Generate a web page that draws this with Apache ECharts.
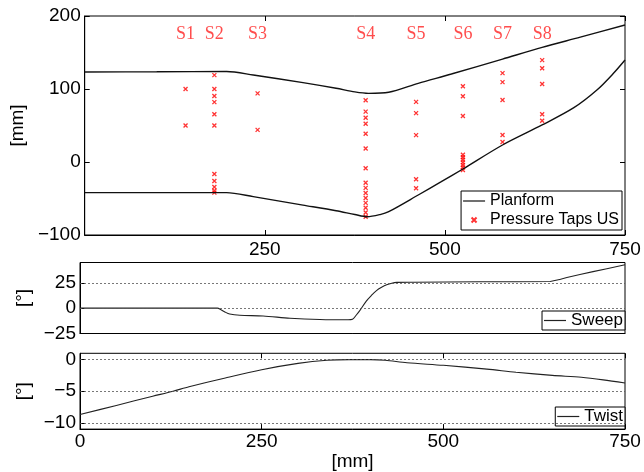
<!DOCTYPE html>
<html>
<head>
<meta charset="utf-8">
<script src="https://cdn.jsdelivr.net/npm/echarts@6/dist/echarts.min.js"></script>
<style>
  html, body { margin: 0; padding: 0; background: #fff; }
  #chart { width: 644px; height: 472px; }
</style>
</head>
<body>
<div id="chart"></div>
<script>
// planform edges [mm]
const upperX = [0, 100, 197, 234, 303, 349, 375, 394, 422, 463, 509, 580, 635, 688, 750]
const upperY = [123.3, 123.6, 124, 119.2, 108.7, 101, 96, 94, 95.5, 107.8, 120.5, 141, 157, 171, 187.7]
const lowerX = [0, 100, 197, 234, 303, 349, 375, 392, 410, 422, 463, 495, 525, 580, 635, 679, 711, 734, 750]
const lowerY = [-42, -42, -42, -47.5, -59, -66.7, -72, -75, -72, -68, -45.2, -27, -9.6, 23.3, 50.7, 74.4, 98.6, 121.5, 139.7]

// pressure tap sections (spanwise position, chordwise taps)
const sectionNames = ['S1', 'S2', 'S3', 'S4', 'S5', 'S6', 'S7', 'S8']
const sectionX = [140, 180, 240, 390, 460, 525, 580, 635]
const tapsS1 = [100, 50]
const tapsS2 = [119, 100, 90.4, 82, 65.3, 50, -16.4, -26, -34.3, -39.3, -42]
const tapsS3 = [94, 44]
const tapsS4 = [84.5, 69, 60.7, 52.5, 38.8, 18.5, -8.6, -28.5, -35.5, -42.5, -49.3, -56, -62.6, -69.2, -74.9]
const tapsS5 = [82.4, 67, 36.8, -23.7, -36]
const tapsS6 = [103.7, 90, 63, 10, 6.5, 3, -0.5, -4, -7.5, -11]
const tapsS7 = [121.8, 109.4, 85, 37, 27.4]
const tapsS8 = [139.5, 128.4, 106.8, 65.3, 56.4]

// sweep [deg]
const sweepX = [0, 150, 189, 194, 200, 206, 220, 252, 289, 330, 369, 375, 380, 385, 394, 401, 408, 415, 422, 429, 436, 459, 550, 647, 658, 670, 706, 750]
const sweepY = [0, 0, 0, -1.5, -4, -5.8, -7, -7.7, -9.9, -11.2, -11.5, -11, -7, -2.5, 7, 12.5, 17.3, 20.5, 23, 24.6, 25.4, 25.6, 26, 26.3, 28, 30.2, 36, 42.7]

// twist [deg]
const twistX = [0, 50, 100, 128, 150, 200, 250, 300, 340, 370, 400, 420, 450, 500, 560, 600, 650, 690, 720, 750]
const twistY = [-8.7, -7.25, -5.8, -5.0, -4.3, -2.9, -1.6, -0.6, -0.1, 0, 0, -0.1, -0.5, -0.9, -1.5, -2.0, -2.5, -2.8, -3.2, -3.7]

const sweepTicks = [-25, 0, 25]
const twistTicks = [0, -5, -10]

const pairs = (xs, ys) => xs.map((x, i) => [x, ys[i]])
const allTaps = [tapsS1, tapsS2, tapsS3, tapsS4, tapsS5, tapsS6, tapsS7, tapsS8]
const tapData = []
allTaps.forEach((taps, i) => taps.forEach((y) => tapData.push([sectionX[i], y])))

const sans = 'Liberation Sans'
const minus = (v) => String(v).replace('-', '\u2212')
const xMark = 'path://M0,0L6,6M6,0L0,6'
const lineIcon = 'path://M0,0h22v1.2h-22z'

const labelStyle = { color: '#000', fontFamily: sans, fontSize: 19 }
const tickIn = { show: true, inside: true, length: 5, lineStyle: { color: '#000', width: 1 } }
const blackLine = { show: true, onZero: false, lineStyle: { color: '#000', width: 1 } }
const noLine = { show: false, onZero: false }
const dotted = { type: [2, 2], color: '#555', width: 0.8 }

const grids = [
  { left: 80, top: 16, width: 545, height: 219 },
  { left: 80, top: 262.5, width: 545, height: 71 },
  { left: 80, top: 353.3, width: 545, height: 77.7 }
].map((g) => Object.assign({ show: true, borderColor: '#000', borderWidth: 1, backgroundColor: '#fff' }, g))

function xAxisFor (gridIndex, extra) {
  return Object.assign({
    type: 'value', gridIndex, min: 0, max: 750, interval: 250,
    axisLine: blackLine, axisTick: tickIn, splitLine: { show: false },
    axisLabel: Object.assign({ margin: 5 }, labelStyle)
  }, extra)
}

function boxLegend (names, top, right, fontSize, padding) {
  return {
    data: names, orient: 'vertical', top, right,
    itemWidth: 22, itemHeight: 5, itemGap: 3, selectedMode: false,
    textStyle: { color: '#000', fontFamily: sans, fontSize },
    borderColor: '#000', borderWidth: 1, borderRadius: 0, backgroundColor: '#fff',
    padding
  }
}

const chart = echarts.init(document.getElementById('chart'), null, { renderer: 'canvas' })
const option = {
  animation: false,
  backgroundColor: '#fff',
  grid: grids,
  xAxis: [
    xAxisFor(0, { axisLabel: Object.assign({ margin: 5, showMinLabel: false }, labelStyle) }),
    xAxisFor(0, { position: 'top', axisLine: noLine, axisLabel: { show: false } }),
    xAxisFor(1, { axisTick: { show: false }, axisLabel: { show: false } }),
    xAxisFor(2, {
      axisLabel: Object.assign({ margin: 3 }, labelStyle),
      name: '[mm]', nameLocation: 'middle', nameGap: 20, nameTextStyle: labelStyle
    }),
    xAxisFor(2, { position: 'top', axisLine: noLine, axisLabel: { show: false } })
  ],
  yAxis: [
    {
      type: 'value', gridIndex: 0, min: -100, max: 200, interval: 100,
      axisLine: blackLine, axisTick: tickIn, splitLine: { show: false },
      axisLabel: Object.assign({ margin: 4, formatter: minus }, labelStyle),
      name: '[mm]', nameLocation: 'middle', nameRotate: 90, nameGap: 52, nameTextStyle: labelStyle
    },
    {
      type: 'value', gridIndex: 0, position: 'right', min: -100, max: 200, interval: 100,
      axisLine: noLine, axisTick: tickIn, splitLine: { show: false }, axisLabel: { show: false }
    },
    {
      type: 'value', gridIndex: 1, min: -25, max: 45,
      axisLine: blackLine, splitLine: { show: false },
      axisTick: Object.assign({ customValues: sweepTicks }, tickIn),
      axisLabel: Object.assign({ margin: 4, formatter: minus, customValues: sweepTicks }, labelStyle),
      name: '[°]', nameLocation: 'middle', nameRotate: 90, nameGap: 41, nameTextStyle: labelStyle
    },
    {
      type: 'value', gridIndex: 2, min: -11, max: 1,
      axisLine: blackLine, splitLine: { show: false },
      axisTick: Object.assign({ customValues: twistTicks }, tickIn),
      axisLabel: Object.assign({ margin: 4, formatter: minus, customValues: twistTicks }, labelStyle),
      name: '[°]', nameLocation: 'middle', nameRotate: 90, nameGap: 41, nameTextStyle: labelStyle
    }
  ],
  legend: [
    boxLegend([{ name: 'Planform', icon: lineIcon }, { name: 'Pressure Taps US', icon: xMark }], 191, 22, 16, [2, 3, 2, 2]),
    boxLegend([{ name: 'Sweep', icon: lineIcon }], 311, 19, 17, [1, 2, 1, 2]),
    boxLegend([{ name: 'Twist', icon: lineIcon }], 407, 19, 17, [1, 2, 1, 2])
  ],
  series: [
    {
      name: 'Planform', type: 'line', xAxisIndex: 0, yAxisIndex: 0,
      data: pairs(upperX, upperY), symbol: 'none', smooth: 0.3,
      lineStyle: { color: '#111', width: 1.4 }, itemStyle: { color: '#111' }
    },
    {
      name: 'Planform', type: 'line', xAxisIndex: 0, yAxisIndex: 0,
      data: pairs(lowerX, lowerY), symbol: 'none', smooth: 0.3,
      lineStyle: { color: '#111', width: 1.4 }, itemStyle: { color: '#111' }
    },
    {
      name: 'Pressure Taps US', type: 'scatter', xAxisIndex: 0, yAxisIndex: 0,
      data: tapData, symbol: xMark, symbolSize: 4,
      itemStyle: { color: '#ff0000', borderColor: '#ff0000', borderWidth: 1.3 }
    },
    {
      name: 'sections', type: 'scatter', xAxisIndex: 0, yAxisIndex: 0,
      data: sectionNames.map((n, i) => ({ name: n, value: [sectionX[i], 175] })),
      symbolSize: 1, itemStyle: { color: 'rgba(0,0,0,0)' }, silent: true,
      label: {
        show: true, position: 'inside', formatter: '{b}',
        color: '#ff2020', fontFamily: 'Liberation Serif', fontSize: 18
      }
    },
    {
      name: 'Sweep', type: 'line', xAxisIndex: 2, yAxisIndex: 2,
      data: pairs(sweepX, sweepY), symbol: 'none', smooth: 0.3,
      lineStyle: { color: '#222', width: 1.1 }, itemStyle: { color: '#222' },
      markLine: {
        silent: true, symbol: 'none', label: { show: false }, lineStyle: dotted,
        data: [{ yAxis: 25 }, { yAxis: 0 }]
      }
    },
    {
      name: 'Twist', type: 'line', xAxisIndex: 3, yAxisIndex: 3,
      data: pairs(twistX, twistY), symbol: 'none', smooth: 0.3,
      lineStyle: { color: '#222', width: 1.1 }, itemStyle: { color: '#222' },
      markLine: {
        silent: true, symbol: 'none', label: { show: false }, lineStyle: dotted,
        data: [{ yAxis: 0 }, { yAxis: -5 }, { yAxis: -10 }]
      }
    }
  ]
}
chart.setOption(option)
</script>
</body>
</html>
